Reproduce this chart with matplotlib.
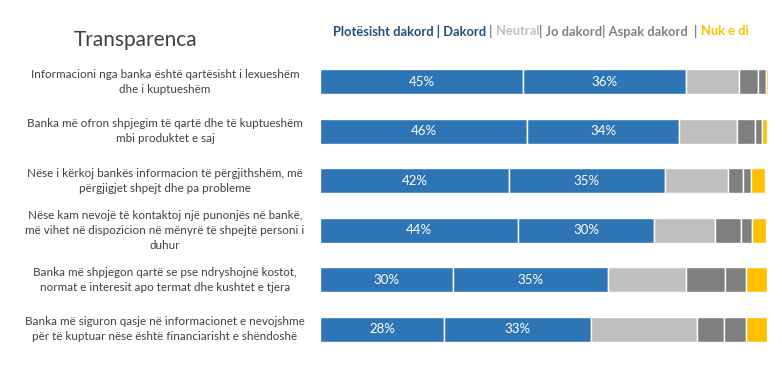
import matplotlib.pyplot as plt
import numpy as np

plt.rcParams['font.family'] = ['Lato', 'DejaVu Sans']

# statements (top to bottom)
questions = [
    "Informacioni nga banka është qartësisht i lexueshëm\ndhe i kuptueshëm",
    "Banka më ofron shpjegim të qartë dhe të kuptueshëm\nmbi produktet e saj",
    "Nëse i kërkoj bankës informacion të përgjithshëm, më\npërgjigjet shpejt dhe pa probleme",
    "Nëse kam nevojë të kontaktoj një punonjës në bankë,\nmë vihet në dispozicion në mënyrë të shpejtë personi i\nduhur",
    "Banka më shpjegon qartë se pse ndryshojnë kostot,\nnormat e interesit apo termat dhe kushtet e tjera",
    "Banka më siguron qasje në informacionet e nevojshme\npër të kuptuar nëse është financiarisht e shëndoshë",
]

# shares in %
plotesisht = [45.2, 46.1, 42.1, 44.1, 29.6, 27.6]
dakord = [36.3, 33.9, 34.7, 30.3, 34.6, 32.7]
neutral = [11.8, 12.9, 14.0, 13.6, 17.4, 23.6]
jo_dakord = [4.2, 4.0, 3.3, 5.8, 8.5, 6.0]
aspak = [1.8, 1.6, 2.0, 2.5, 4.7, 4.9]
nuk_e_di = [0.4, 1.1, 3.1, 3.1, 4.7, 4.7]

series = [plotesisht, dakord, neutral, jo_dakord, aspak, nuk_e_di]
colors = ['#2E75B6', '#2E75B6', '#BFBFBF', '#7F7F7F', '#7F7F7F', '#FFC000']
show_label = [True, True, False, False, False, False]

fig = plt.figure(figsize=(7.82, 3.66), dpi=100)
ax = fig.add_axes([320 / 782, 1 - 354 / 366, 449 / 782, 297 / 366])

y = np.arange(len(questions))
left = np.zeros(len(questions))
for vals, col, lab in zip(series, colors, show_label):
    vals = np.array(vals)
    ax.barh(y, vals, left=left, height=0.5, color=col, edgecolor='white', linewidth=1)
    if lab:
        for yi, (l, v) in enumerate(zip(left, vals)):
            ax.text(l + v / 2, yi, f"{int(v + 0.5)}%", ha='center', va='center',
                    color='white', fontsize=9.5)
    left += vals

ax.set_xlim(0, 100)
ax.set_ylim(len(questions) - 0.5, -0.5)
ax.axis('off')

# category labels to the left of the bars
for yi, q in enumerate(questions):
    yy = ax.transData.transform((0, yi))[1] / fig.dpi / 3.66
    fig.text(165 / 782, yy, q, ha='center', va='center', fontsize=8.4,
             color='#404040', linespacing=1.45)

fig.text(74 / 782, 1 - 40 / 366, "Transparenca", fontsize=15, color='#404040',
         va='center', ha='left')

# coloured legend line
pieces = [
    ("Plotësisht dakord | Dakord", '#1F4E79'),
    (" | ", '#808080'),
    ("Neutral", '#BFBFBF'),
    ("| Jo dakord| Aspak dakord  | ", '#808080'),
    ("Nuk e di", '#FFC000'),
]
fig.canvas.draw()
renderer = fig.canvas.get_renderer()
x = 333 / 782
for txt, col in pieces:
    t = fig.text(x, 1 - 31 / 366, txt, color=col, fontsize=9.3, fontweight='bold',
                 ha='left', va='center')
    bb = t.get_window_extent(renderer)
    x = bb.x1 / fig.bbox.width

fig.savefig('out.png', dpi=100, facecolor='white')
